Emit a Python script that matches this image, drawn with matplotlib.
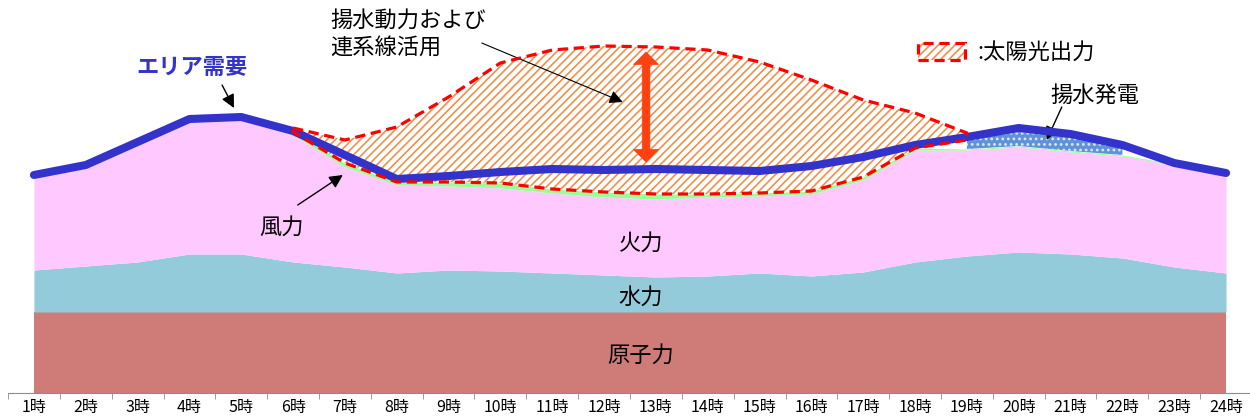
import numpy as np
import matplotlib
matplotlib.use("Agg")
import matplotlib.pyplot as plt
from matplotlib.patches import FancyArrowPatch, Rectangle

plt.rcParams["font.family"] = ["Noto Sans CJK JP", "DejaVu Sans"]
plt.rcParams["hatch.linewidth"] = 1.2

# hourly supply/demand (relative units)
hours = [f"{h}時" for h in range(1, 25)]
nuclear = [81] * 24
hydro = [42, 46, 50, 58, 58, 50, 45, 39, 42, 41, 39, 37,
         35, 36, 39, 36, 40, 50, 56, 60, 58, 54, 45, 39]
thermal = [93, 99, 118, 132, 134, 127, 100, 88, 84, 83, 80, 78,
           78, 79, 77, 82, 92, 112, 106, 105, 102, 102, 102, 98]
wind = [2, 2, 2, 3, 3, 3, 4, 3, 4, 5, 4, 5,
        5, 3, 3, 3, 3, 2, 1, 1, 1, 1, 1, 1]
pumped_gen = [0, 0, 0, 0, 0, 0, 0, 0, 0, 0, 0, 0,
              0, 0, 0, 0, 0, 0, 9, 14, 14, 7, 0, 0]
solar = [0, 0, 0, 0, 0, 4, 23, 55, 85, 120, 139, 146,
         147, 144, 131, 111, 77, 35, 7, 0, 0, 0, 0, 0]
demand = [218, 228, 251, 274, 276, 262, 238, 214, 217, 221, 224, 223,
          224, 223, 222, 227, 236, 248, 256, 265, 259, 248, 230, 220]

C_NUC = "#CF7C79"
C_HYD = "#93CBDB"
C_THR = "#FFC8FF"
C_WIND = "#99FF99"
C_PUMP = "#5F92D6"
C_SOLAR = "#F0904A"
C_DEMAND = "#3333CC"

x = np.arange(1, 25)
nuc_top = np.array(nuclear, float)
hyd_top = nuc_top + hydro
thr_top = hyd_top + thermal
wind_top = thr_top + wind
pump_top = wind_top + pumped_gen
solar_top = pump_top + solar
sol = np.array(solar) > 0

fig = plt.figure(figsize=(12.5, 4.19), dpi=100)
ax = fig.add_axes([8 / 1250, 26 / 419, 1244 / 1250, 393 / 419])

ax.fill_between(x, 0, nuc_top, color=C_NUC, lw=0)
ax.fill_between(x, nuc_top, hyd_top, color=C_HYD, lw=0)
ax.fill_between(x, hyd_top, thr_top, color=C_THR, lw=0)
ax.fill_between(x, thr_top, wind_top, color=C_WIND, lw=0)
ax.fill_between(x, wind_top, pump_top, where=np.array(pumped_gen) > 0,
                facecolor=C_PUMP, edgecolor="#DDE8F8", hatch="...", lw=0)
ax.fill_between(x[sol], pump_top[sol], solar_top[sol], facecolor="white",
                edgecolor=C_SOLAR, hatch="////", lw=0)

ax.plot(x, demand, color=C_DEMAND, lw=5.8, solid_capstyle="round",
        solid_joinstyle="round", zorder=4)

# dashed outline of solar output
ox = np.concatenate([x[sol], x[sol][::-1], x[sol][:1]])
oy = np.concatenate([solar_top[sol], pump_top[sol][::-1], solar_top[sol][:1]])
ax.plot(ox, oy, color="#FF0000", lw=2.3, ls=(0, (3.2, 1.8)), zorder=5)

ax.set_xlim(0.5, 24.5)
ax.set_ylim(0, 393)
for s in ["left", "right", "top"]:
    ax.spines[s].set_visible(False)
ax.spines["bottom"].set_color("#8C8C8C")
ax.set_yticks([])
ax.set_xticks(x)
ax.set_xticklabels(hours, fontsize=11.5)
ax.set_xticks(np.arange(0.5, 25, 1), minor=True)
ax.tick_params(axis="x", which="major", length=0, pad=4)
ax.tick_params(axis="x", which="minor", length=4, color="#8C8C8C")

# layer labels
ax.text(12.71, 150, "火力", fontsize=16, ha="center", va="center")
ax.text(12.71, 96, "水力", fontsize=16, ha="center", va="center")
ax.text(12.71, 38, "原子力", fontsize=16, ha="center", va="center")

arrow_kw = dict(arrowstyle="-|>", color="black", lw=1, mutation_scale=20,
                shrinkA=0, shrinkB=0)

ax.text(4.05, 326, "エリア需要", fontsize=16, fontweight="bold",
        color=C_DEMAND, ha="center", va="center")
ax.annotate("", xy=(4.86, 285), xytext=(4.63, 308), arrowprops=arrow_kw)

ax.text(6.71, 359, "揚水動力および\n連系線活用", fontsize=16, ha="left",
        va="center", linespacing=1.2)
ax.annotate("", xy=(12.36, 291), xytext=(9.64, 350),
            arrowprops=dict(arrowstyle="-|>", color="black", lw=0.8,
                            mutation_scale=20, shrinkA=0, shrinkB=0))

ax.text(5.78, 166, "風力", fontsize=16, ha="center", va="center")
ax.annotate("", xy=(6.96, 218), xytext=(6.09, 188), arrowprops=arrow_kw)

ax.text(21.47, 298, "揚水発電", fontsize=16, ha="center", va="center")
ax.annotate("", xy=(20.54, 253), xytext=(20.83, 286), arrowprops=arrow_kw)

# double arrow: surplus of solar over demand
arr_x = 12.81
mid = (341 + 231) / 2
for end in (341, 231):
    ax.add_patch(FancyArrowPatch((arr_x, mid), (arr_x, end),
                                 arrowstyle="simple,head_width=18,head_length=9,tail_width=5.5",
                                 mutation_scale=1, fc="#FF4010", ec="#FF4010",
                                 lw=0.5, shrinkA=0, shrinkB=0, zorder=6))

# legend for solar output
ax.add_patch(Rectangle((18.05, 333), 0.92, 17, facecolor="white",
                       edgecolor=C_SOLAR, hatch="////", lw=0, zorder=5))
ax.add_patch(Rectangle((18.05, 333), 0.92, 17, facecolor="none",
                       edgecolor="#FF0000", lw=2.3, ls=(0, (3.2, 1.8)), zorder=6))
ax.text(19.2, 341, ":太陽光出力", fontsize=16, ha="left", va="center")

fig.savefig("out.png", dpi=100)
